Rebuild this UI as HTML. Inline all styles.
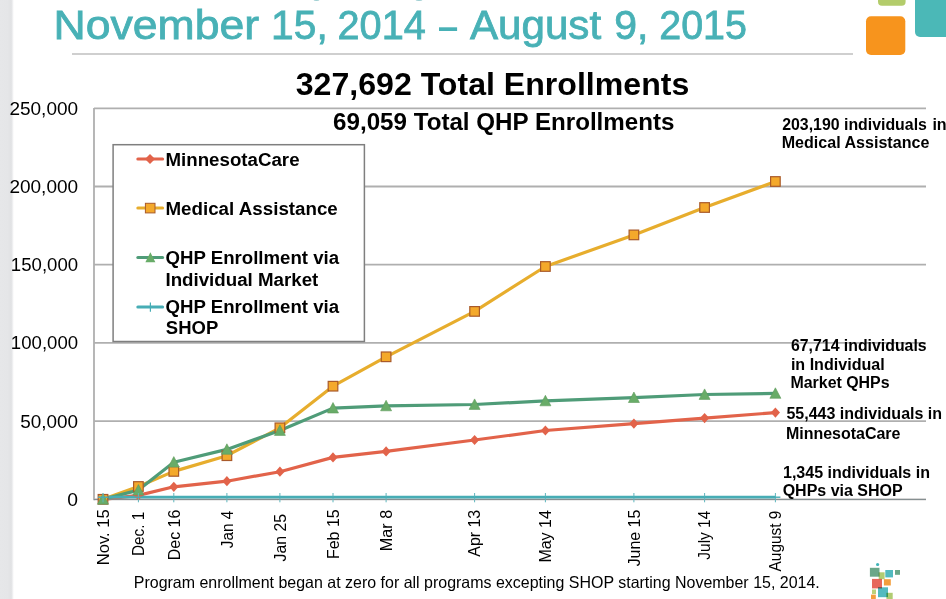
<!DOCTYPE html>
<html><head><meta charset="utf-8"><style>
html,body{margin:0;padding:0;background:#fff;}
body{width:946px;height:599px;overflow:hidden;position:relative;font-family:"Liberation Sans",sans-serif;}
#band{position:absolute;left:0;top:0;width:14px;height:599px;background:linear-gradient(to right,#e6e7e9 0,#e5e6e8 8px,#e1e2e4 11px,#e6e7e9 12px,#f6f6f7 13px,#fff 14px);}
svg{position:absolute;left:0;top:0;}
svg text{font-family:"Liberation Sans",sans-serif;}
</style></head><body>
<div id="band"></div>
<svg width="946" height="599" viewBox="0 0 946 599">
<line x1="94" y1="108.3" x2="926" y2="108.3" stroke="#afafaf" stroke-width="1.8"/>
<line x1="94" y1="186.5" x2="926" y2="186.5" stroke="#afafaf" stroke-width="1.8"/>
<line x1="94" y1="264.7" x2="926" y2="264.7" stroke="#afafaf" stroke-width="1.8"/>
<line x1="94" y1="342.9" x2="926" y2="342.9" stroke="#afafaf" stroke-width="1.8"/>
<line x1="94" y1="421.1" x2="926" y2="421.1" stroke="#afafaf" stroke-width="1.8"/>
<line x1="94" y1="499.3" x2="926" y2="499.3" stroke="#afafaf" stroke-width="1.8"/>
<line x1="94" y1="108" x2="94" y2="500.2" stroke="#afafaf" stroke-width="1.8"/>
<polyline points="103.0,499.3 138.4,486.5 173.8,471.4 226.9,455.7 279.9,427.8 333.0,386.2 386.1,356.8 474.6,311.4 545.4,266.5 633.9,234.9 704.6,207.5 775.4,181.5" fill="none" stroke="#e7ad2d" stroke-width="3.2" stroke-linejoin="round"/>
<polyline points="103.0,499.3 138.4,495.4 173.8,486.8 226.9,481.2 279.9,471.7 333.0,457.4 386.1,451.4 474.6,440.0 545.4,430.5 633.9,423.6 704.6,418.1 775.4,412.6" fill="none" stroke="#e2634a" stroke-width="3.2" stroke-linejoin="round"/>
<polyline points="103.0,499.3 138.4,490.1 173.8,462.2 226.9,449.4 279.9,430.5 333.0,408.1 386.1,405.9 474.6,404.5 545.4,400.9 633.9,397.6 704.6,394.5 775.4,393.4" fill="none" stroke="#4f9c78" stroke-width="3.2" stroke-linejoin="round"/>
<line x1="103" y1="497.2" x2="775.4" y2="497.2" stroke="#47adb5" stroke-width="2.8"/>
<line x1="94" y1="499.5" x2="926" y2="499.5" stroke="#808a8c" stroke-width="1.2" opacity="0.85"/>
<path d="M103.0,494.2 L107.6,499.3 L103.0,504.4 L98.4,499.3Z" fill="#e2634a"/>
<path d="M138.4,490.3 L143.0,495.4 L138.4,500.5 L133.8,495.4Z" fill="#e2634a"/>
<path d="M173.8,481.7 L178.4,486.8 L173.8,491.9 L169.2,486.8Z" fill="#e2634a"/>
<path d="M226.9,476.1 L231.5,481.2 L226.9,486.3 L222.3,481.2Z" fill="#e2634a"/>
<path d="M279.9,466.6 L284.6,471.7 L279.9,476.8 L275.3,471.7Z" fill="#e2634a"/>
<path d="M333.0,452.3 L337.6,457.4 L333.0,462.5 L328.4,457.4Z" fill="#e2634a"/>
<path d="M386.1,446.3 L390.7,451.4 L386.1,456.5 L381.5,451.4Z" fill="#e2634a"/>
<path d="M474.6,434.9 L479.2,440.0 L474.6,445.1 L470.0,440.0Z" fill="#e2634a"/>
<path d="M545.4,425.4 L550.0,430.5 L545.4,435.6 L540.8,430.5Z" fill="#e2634a"/>
<path d="M633.9,418.5 L638.5,423.6 L633.9,428.7 L629.2,423.6Z" fill="#e2634a"/>
<path d="M704.6,413.0 L709.2,418.1 L704.6,423.2 L700.0,418.1Z" fill="#e2634a"/>
<path d="M775.4,407.5 L780.0,412.6 L775.4,417.7 L770.8,412.6Z" fill="#e2634a"/>
<rect x="98.2" y="494.5" width="9.6" height="9.6" fill="#f4a92b" stroke="#a95a2a" stroke-width="1.2"/>
<rect x="133.6" y="481.7" width="9.6" height="9.6" fill="#f4a92b" stroke="#a95a2a" stroke-width="1.2"/>
<rect x="169.0" y="466.6" width="9.6" height="9.6" fill="#f4a92b" stroke="#a95a2a" stroke-width="1.2"/>
<rect x="222.1" y="450.9" width="9.6" height="9.6" fill="#f4a92b" stroke="#a95a2a" stroke-width="1.2"/>
<rect x="275.1" y="423.0" width="9.6" height="9.6" fill="#f4a92b" stroke="#a95a2a" stroke-width="1.2"/>
<rect x="328.2" y="381.4" width="9.6" height="9.6" fill="#f4a92b" stroke="#a95a2a" stroke-width="1.2"/>
<rect x="381.3" y="352.0" width="9.6" height="9.6" fill="#f4a92b" stroke="#a95a2a" stroke-width="1.2"/>
<rect x="469.8" y="306.6" width="9.6" height="9.6" fill="#f4a92b" stroke="#a95a2a" stroke-width="1.2"/>
<rect x="540.6" y="261.7" width="9.6" height="9.6" fill="#f4a92b" stroke="#a95a2a" stroke-width="1.2"/>
<rect x="629.1" y="230.1" width="9.6" height="9.6" fill="#f4a92b" stroke="#a95a2a" stroke-width="1.2"/>
<rect x="699.8" y="202.7" width="9.6" height="9.6" fill="#f4a92b" stroke="#a95a2a" stroke-width="1.2"/>
<rect x="770.6" y="176.7" width="9.6" height="9.6" fill="#f4a92b" stroke="#a95a2a" stroke-width="1.2"/>
<path d="M103.0,493.7 L108.5,504.2 L97.5,504.2Z" fill="#68ac68" stroke="#5f9a5c" stroke-width="0.6" stroke-linejoin="round"/>
<path d="M138.4,484.5 L143.9,495.0 L132.9,495.0Z" fill="#68ac68" stroke="#5f9a5c" stroke-width="0.6" stroke-linejoin="round"/>
<path d="M173.8,456.6 L179.3,467.1 L168.3,467.1Z" fill="#68ac68" stroke="#5f9a5c" stroke-width="0.6" stroke-linejoin="round"/>
<path d="M226.9,443.8 L232.4,454.3 L221.4,454.3Z" fill="#68ac68" stroke="#5f9a5c" stroke-width="0.6" stroke-linejoin="round"/>
<path d="M279.9,424.9 L285.4,435.4 L274.4,435.4Z" fill="#68ac68" stroke="#5f9a5c" stroke-width="0.6" stroke-linejoin="round"/>
<path d="M333.0,402.5 L338.5,413.0 L327.5,413.0Z" fill="#68ac68" stroke="#5f9a5c" stroke-width="0.6" stroke-linejoin="round"/>
<path d="M386.1,400.3 L391.6,410.8 L380.6,410.8Z" fill="#68ac68" stroke="#5f9a5c" stroke-width="0.6" stroke-linejoin="round"/>
<path d="M474.6,398.9 L480.1,409.4 L469.1,409.4Z" fill="#68ac68" stroke="#5f9a5c" stroke-width="0.6" stroke-linejoin="round"/>
<path d="M545.4,395.3 L550.9,405.8 L539.9,405.8Z" fill="#68ac68" stroke="#5f9a5c" stroke-width="0.6" stroke-linejoin="round"/>
<path d="M633.9,392.0 L639.4,402.5 L628.4,402.5Z" fill="#68ac68" stroke="#5f9a5c" stroke-width="0.6" stroke-linejoin="round"/>
<path d="M704.6,388.9 L710.1,399.4 L699.1,399.4Z" fill="#68ac68" stroke="#5f9a5c" stroke-width="0.6" stroke-linejoin="round"/>
<path d="M775.4,387.8 L780.9,398.3 L769.9,398.3Z" fill="#68ac68" stroke="#5f9a5c" stroke-width="0.6" stroke-linejoin="round"/>
<line x1="103.0" y1="493" x2="103.0" y2="502.3" stroke="#5fb6bd" stroke-width="1.0"/>
<line x1="98.0" y1="497.2" x2="108.0" y2="497.2" stroke="#47adb5" stroke-width="1.4"/>
<line x1="138.4" y1="493" x2="138.4" y2="502.3" stroke="#5fb6bd" stroke-width="1.0"/>
<line x1="133.4" y1="497.2" x2="143.4" y2="497.2" stroke="#47adb5" stroke-width="1.4"/>
<line x1="173.8" y1="493" x2="173.8" y2="502.3" stroke="#5fb6bd" stroke-width="1.0"/>
<line x1="168.8" y1="497.2" x2="178.8" y2="497.2" stroke="#47adb5" stroke-width="1.4"/>
<line x1="226.9" y1="493" x2="226.9" y2="502.3" stroke="#5fb6bd" stroke-width="1.0"/>
<line x1="221.9" y1="497.2" x2="231.9" y2="497.2" stroke="#47adb5" stroke-width="1.4"/>
<line x1="279.9" y1="493" x2="279.9" y2="502.3" stroke="#5fb6bd" stroke-width="1.0"/>
<line x1="274.9" y1="497.2" x2="284.9" y2="497.2" stroke="#47adb5" stroke-width="1.4"/>
<line x1="333.0" y1="493" x2="333.0" y2="502.3" stroke="#5fb6bd" stroke-width="1.0"/>
<line x1="328.0" y1="497.2" x2="338.0" y2="497.2" stroke="#47adb5" stroke-width="1.4"/>
<line x1="386.1" y1="493" x2="386.1" y2="502.3" stroke="#5fb6bd" stroke-width="1.0"/>
<line x1="381.1" y1="497.2" x2="391.1" y2="497.2" stroke="#47adb5" stroke-width="1.4"/>
<line x1="474.6" y1="493" x2="474.6" y2="502.3" stroke="#5fb6bd" stroke-width="1.0"/>
<line x1="469.6" y1="497.2" x2="479.6" y2="497.2" stroke="#47adb5" stroke-width="1.4"/>
<line x1="545.4" y1="493" x2="545.4" y2="502.3" stroke="#5fb6bd" stroke-width="1.0"/>
<line x1="540.4" y1="497.2" x2="550.4" y2="497.2" stroke="#47adb5" stroke-width="1.4"/>
<line x1="633.9" y1="493" x2="633.9" y2="502.3" stroke="#5fb6bd" stroke-width="1.0"/>
<line x1="628.9" y1="497.2" x2="638.9" y2="497.2" stroke="#47adb5" stroke-width="1.4"/>
<line x1="704.6" y1="493" x2="704.6" y2="502.3" stroke="#5fb6bd" stroke-width="1.0"/>
<line x1="699.6" y1="497.2" x2="709.6" y2="497.2" stroke="#47adb5" stroke-width="1.4"/>
<line x1="775.4" y1="493" x2="775.4" y2="502.3" stroke="#5fb6bd" stroke-width="1.0"/>
<line x1="770.4" y1="497.2" x2="780.4" y2="497.2" stroke="#47adb5" stroke-width="1.4"/>
<rect x="113.1" y="144.7" width="251.3" height="196.8" fill="#fff" stroke="#7f7f7f" stroke-width="1.5"/>
<line x1="137.8" y1="159" x2="162.6" y2="159" stroke="#e2634a" stroke-width="3" stroke-linecap="round"/>
<path d="M150,154 L155,159 L150,164 L145,159Z" fill="#e2634a"/>
<line x1="137.8" y1="208.1" x2="162.6" y2="208.1" stroke="#e7ad2d" stroke-width="3" stroke-linecap="round"/>
<rect x="145.4" y="203.29999999999998" width="9.6" height="9.6" fill="#f4a92b" stroke="#a95a2a" stroke-width="1"/>
<line x1="137.8" y1="257.5" x2="162.6" y2="257.5" stroke="#4f9c78" stroke-width="3" stroke-linecap="round"/>
<path d="M150.4,252.3 L155.4,262.3 L145.4,262.3Z" fill="#68ac68"/>
<line x1="137.8" y1="307.1" x2="162.6" y2="307.1" stroke="#47adb5" stroke-width="3" stroke-linecap="round"/>
<line x1="150.4" y1="302.40000000000003" x2="150.4" y2="311.8" stroke="#47adb5" stroke-width="1.2"/>
<text x="53.48" y="38.90" font-size="40" font-weight="normal" fill="#48b1b6" textLength="205.68" lengthAdjust="spacingAndGlyphs" stroke="#48b1b6" stroke-width="0.8">November</text>
<text x="271.14" y="38.90" font-size="40" font-weight="normal" fill="#48b1b6" textLength="56.63" lengthAdjust="spacingAndGlyphs" stroke="#48b1b6" stroke-width="0.8">15,</text>
<text x="337.52" y="38.90" font-size="40" font-weight="normal" fill="#48b1b6" textLength="88.31" lengthAdjust="spacingAndGlyphs" stroke="#48b1b6" stroke-width="0.8">2014</text>
<text x="469.94" y="38.90" font-size="40" font-weight="normal" fill="#48b1b6" textLength="131.16" lengthAdjust="spacingAndGlyphs" stroke="#48b1b6" stroke-width="0.8">August</text>
<text x="614.15" y="38.90" font-size="40" font-weight="normal" fill="#48b1b6" textLength="34.14" lengthAdjust="spacingAndGlyphs" stroke="#48b1b6" stroke-width="0.8">9,</text>
<text x="659.23" y="38.90" font-size="40" font-weight="normal" fill="#48b1b6" textLength="87.78" lengthAdjust="spacingAndGlyphs" stroke="#48b1b6" stroke-width="0.8">2015</text>
<text x="295.72" y="95.00" font-size="31" font-weight="bold" fill="#000" textLength="393.61" lengthAdjust="spacingAndGlyphs" >327,692 Total Enrollments</text>
<text x="333.12" y="129.60" font-size="23.3" font-weight="bold" fill="#000" textLength="341.36" lengthAdjust="spacingAndGlyphs" >69,059 Total QHP Enrollments</text>
<text x="9.41" y="114.70" font-size="17.5" font-weight="normal" fill="#000" textLength="68.72" lengthAdjust="spacingAndGlyphs" >250,000</text>
<text x="9.41" y="192.90" font-size="17.5" font-weight="normal" fill="#000" textLength="68.72" lengthAdjust="spacingAndGlyphs" >200,000</text>
<text x="10.87" y="271.10" font-size="17.5" font-weight="normal" fill="#000" textLength="67.24" lengthAdjust="spacingAndGlyphs" >150,000</text>
<text x="10.87" y="349.30" font-size="17.5" font-weight="normal" fill="#000" textLength="67.24" lengthAdjust="spacingAndGlyphs" >100,000</text>
<text x="20.29" y="427.50" font-size="17.5" font-weight="normal" fill="#000" textLength="57.85" lengthAdjust="spacingAndGlyphs" >50,000</text>
<text x="67.37" y="505.70" font-size="17.5" font-weight="normal" fill="#000" textLength="10.74" lengthAdjust="spacingAndGlyphs" >0</text>
<text x="165.46" y="165.70" font-size="17.5" font-weight="bold" fill="#000" textLength="134.09" lengthAdjust="spacingAndGlyphs" >MinnesotaCare</text>
<text x="165.46" y="214.80" font-size="17.5" font-weight="bold" fill="#000" textLength="172.36" lengthAdjust="spacingAndGlyphs" >Medical Assistance</text>
<text x="165.60" y="263.70" font-size="17.5" font-weight="bold" fill="#000" textLength="173.50" lengthAdjust="spacingAndGlyphs" >QHP Enrollment via</text>
<text x="165.46" y="285.90" font-size="17.5" font-weight="bold" fill="#000" textLength="152.85" lengthAdjust="spacingAndGlyphs" >Individual Market</text>
<text x="165.60" y="312.60" font-size="17.5" font-weight="bold" fill="#000" textLength="173.50" lengthAdjust="spacingAndGlyphs" >QHP Enrollment via</text>
<text x="165.87" y="334.30" font-size="17.5" font-weight="bold" fill="#000" textLength="52.37" lengthAdjust="spacingAndGlyphs" >SHOP</text>
<text x="781.70" y="148.40" font-size="16" font-weight="bold" fill="#000" textLength="147.64" lengthAdjust="spacingAndGlyphs" >Medical Assistance</text>
<text x="782.20" y="129.60" font-size="16" font-weight="bold" fill="#000" textLength="144.70" lengthAdjust="spacingAndGlyphs" >203,190 individuals</text>
<text x="932.40" y="129.60" font-size="16" font-weight="bold" fill="#000" textLength="14.28" lengthAdjust="spacingAndGlyphs" >in</text>
<text x="791.00" y="350.60" font-size="16" font-weight="bold" fill="#000" textLength="135.59" lengthAdjust="spacingAndGlyphs" >67,714 individuals</text>
<text x="790.90" y="369.90" font-size="16" font-weight="bold" fill="#000" textLength="93.80" lengthAdjust="spacingAndGlyphs" >in Individual</text>
<text x="790.51" y="388.20" font-size="16" font-weight="bold" fill="#000" textLength="99.09" lengthAdjust="spacingAndGlyphs" >Market QHPs</text>
<text x="786.40" y="418.50" font-size="16" font-weight="bold" fill="#000" textLength="155.68" lengthAdjust="spacingAndGlyphs" >55,443 individuals in</text>
<text x="785.90" y="438.70" font-size="16" font-weight="bold" fill="#000" textLength="114.55" lengthAdjust="spacingAndGlyphs" >MinnesotaCare</text>
<text x="783.00" y="477.70" font-size="16" font-weight="bold" fill="#000" textLength="146.97" lengthAdjust="spacingAndGlyphs" >1,345 individuals in</text>
<text x="782.65" y="496.30" font-size="16" font-weight="bold" fill="#000" textLength="120.00" lengthAdjust="spacingAndGlyphs" >QHPs via SHOP</text>
<text x="133.79" y="587.80" font-size="16.5" font-weight="normal" fill="#000" textLength="685.96" lengthAdjust="spacingAndGlyphs" >Program enrollment began at zero for all programs excepting SHOP starting November 15, 2014.</text>
<text transform="translate(108.80,565.26) rotate(-90)" font-size="16.5" fill="#000" textLength="56.00" lengthAdjust="spacingAndGlyphs">Nov. 15</text>
<text transform="translate(144.19,556.06) rotate(-90)" font-size="16.5" fill="#000" textLength="44.33" lengthAdjust="spacingAndGlyphs">Dec. 1</text>
<text transform="translate(179.58,560.21) rotate(-90)" font-size="16.5" fill="#000" textLength="50.46" lengthAdjust="spacingAndGlyphs">Dec 16</text>
<text transform="translate(232.67,548.13) rotate(-90)" font-size="16.5" fill="#000" textLength="37.38" lengthAdjust="spacingAndGlyphs">Jan 4</text>
<text transform="translate(285.75,561.54) rotate(-90)" font-size="16.5" fill="#000" textLength="47.71" lengthAdjust="spacingAndGlyphs">Jan 25</text>
<text transform="translate(338.83,559.01) rotate(-90)" font-size="16.5" fill="#000" textLength="49.71" lengthAdjust="spacingAndGlyphs">Feb 15</text>
<text transform="translate(391.92,551.23) rotate(-90)" font-size="16.5" fill="#000" textLength="41.40" lengthAdjust="spacingAndGlyphs">Mar 8</text>
<text transform="translate(480.40,556.70) rotate(-90)" font-size="16.5" fill="#000" textLength="46.80" lengthAdjust="spacingAndGlyphs">Apr 13</text>
<text transform="translate(551.17,562.61) rotate(-90)" font-size="16.5" fill="#000" textLength="52.46" lengthAdjust="spacingAndGlyphs">May 14</text>
<text transform="translate(639.65,566.34) rotate(-90)" font-size="16.5" fill="#000" textLength="56.63" lengthAdjust="spacingAndGlyphs">June 15</text>
<text transform="translate(710.43,559.63) rotate(-90)" font-size="16.5" fill="#000" textLength="48.83" lengthAdjust="spacingAndGlyphs">July 14</text>
<text transform="translate(781.21,571.50) rotate(-90)" font-size="16.5" fill="#000" textLength="60.93" lengthAdjust="spacingAndGlyphs">August 9</text>
<rect x="439" y="27.3" width="18.1" height="3.7" fill="#48b1b6"/>
<ellipse cx="316.5" cy="-0.3" rx="3" ry="1.3" fill="#9fcfd2"/>
<ellipse cx="419" cy="-0.3" rx="3.5" ry="1.3" fill="#9fcfd2"/>
<line x1="72" y1="54" x2="853" y2="54" stroke="#cfcfcf" stroke-width="2"/>
<path d="M878,-6 h27.6 v7.8 a4,4 0 0 1 -4,4 h-19.6 a4,4 0 0 1 -4,-4z" fill="#b3cc6b"/>
<rect x="866" y="16.2" width="39.3" height="38.7" rx="5" fill="#f7941d"/>
<rect x="915" y="-10" width="40" height="46.9" rx="5" fill="#4bb8b7"/>
<rect x="869.9" y="567.8" width="9.6" height="8.9" fill="#5a9e7c" opacity="0.9" style="mix-blend-mode:multiply"/>
<rect x="878.7" y="572.3" width="5.9" height="6.9" fill="#a9c762" opacity="0.9" style="mix-blend-mode:multiply"/>
<rect x="885.3" y="570.0" width="7.7" height="7.4" fill="#3fb3b8" opacity="0.9" style="mix-blend-mode:multiply"/>
<rect x="895.0" y="570.0" width="5.0" height="4.8" fill="#5a9e7c" opacity="0.9" style="mix-blend-mode:multiply"/>
<rect x="872.0" y="578.9" width="10.0" height="9.5" fill="#e4574a" opacity="0.9" style="mix-blend-mode:multiply"/>
<rect x="883.9" y="579.2" width="6.9" height="6.3" fill="#f29327" opacity="0.9" style="mix-blend-mode:multiply"/>
<rect x="872.0" y="589.5" width="4.0" height="4.5" fill="#b5cc6a" opacity="0.9" style="mix-blend-mode:multiply"/>
<rect x="878.0" y="587.3" width="10.0" height="9.9" fill="#3fb3b8" opacity="0.9" style="mix-blend-mode:multiply"/>
<rect x="886.4" y="592.8" width="6.3" height="6.2" fill="#a9c762" opacity="0.9" style="mix-blend-mode:multiply"/>
<rect x="871.0" y="594.6" width="4.8" height="4.4" fill="#f29327" opacity="0.9" style="mix-blend-mode:multiply"/>
<circle cx="877.6" cy="564.5" r="1.6" fill="#3fb3b8"/>
</svg>
</body></html>
